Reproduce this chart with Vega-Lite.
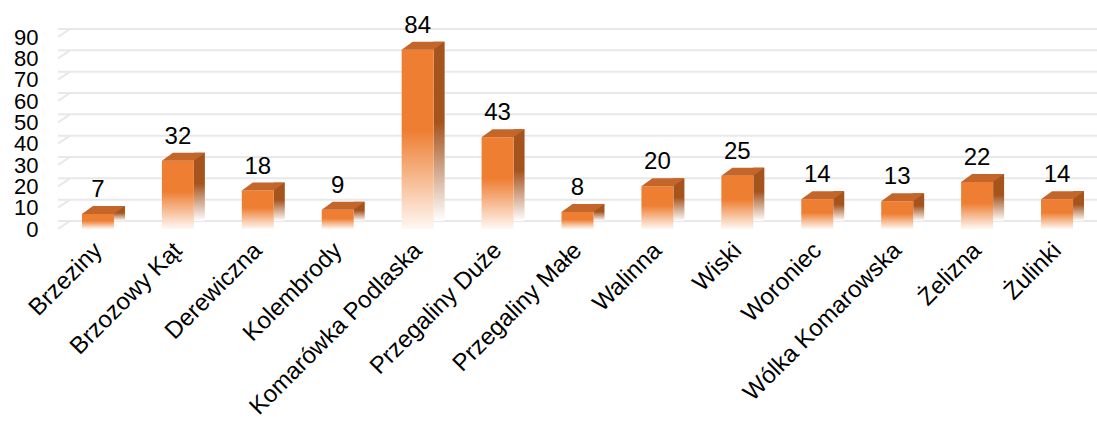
{
  "$schema": "https://vega.github.io/schema/vega-lite/v6.json",
  "width": 1039,
  "height": 192,
  "autosize": {"type": "none"},
  "padding": {"left": 58, "top": 37, "right": 0, "bottom": 192},
  "background": "white",
  "config": {
    "view": {"stroke": null},
    "font": "Liberation Sans",
    "axisY": {
      "labelFontSize": 22, "labelColor": "#000000", "ticks": false, "domain": false,
      "grid": false, "labelPadding": 20, "labelOverlap": false, "labelFlush": false,
      "labelBound": false, "title": null, "tickCount": 10
    },
    "axisX": {
      "labelAngle": -45, "labelAlign": "right", "labelBaseline": "top",
      "labelFontSize": 24, "labelColor": "#000000",
      "ticks": false, "domain": false, "labelPadding": 9, "labelOffset": -8, "labelLimit": 400,
      "labelOverlap": false, "title": null, "grid": false
    }
  },
  "datasets": {
    "villages": [
      {"name": "Brzeziny", "value": 7},
      {"name": "Brzozowy Kąt", "value": 32},
      {"name": "Derewiczna", "value": 18},
      {"name": "Kolembrody", "value": 9},
      {"name": "Komarówka Podlaska", "value": 84},
      {"name": "Przegaliny Duże", "value": 43},
      {"name": "Przegaliny Małe", "value": 8},
      {"name": "Walinna", "value": 20},
      {"name": "Wiski", "value": 25},
      {"name": "Woroniec", "value": 14},
      {"name": "Wólka Komarowska", "value": 13},
      {"name": "Żelizna", "value": 22},
      {"name": "Żulinki", "value": 14}
    ],
    "grid": [
      {"v": 0}, {"v": 10}, {"v": 20}, {"v": 30}, {"v": 40},
      {"v": 50}, {"v": 60}, {"v": 70}, {"v": 80}, {"v": 90}
    ]
  },
  "layer": [
    {
      "data": {"name": "grid"},
      "mark": {"type": "rule", "color": "#E8E8E8", "strokeWidth": 2, "xOffset": 12, "yOffset": -8},
      "encoding": {
        "y": {
          "field": "v", "type": "quantitative", "scale": {"domain": [0, 90]},
          "axis": {"values": [0, 10, 20, 30, 40, 50, 60, 70, 80, 90], "labelOverlap": false}
        }
      }
    },
    {
      "data": {"name": "grid"},
      "mark": {"type": "rule", "color": "#E8E8E8", "strokeWidth": 2, "x2Offset": 12, "y2Offset": -8},
      "encoding": {
        "x": {"datum": "Brzeziny", "type": "nominal", "bandPosition": 0},
        "x2": {"datum": "Brzeziny", "bandPosition": 0},
        "y": {"field": "v", "type": "quantitative"},
        "y2": {"field": "v"}
      }
    },
    {
      "data": {"name": "villages"},
      "mark": {
        "type": "bar", "width": 11, "xOffset": 21.5, "yOffset": -8,
        "color": {
          "gradient": "linear", "x1": 0, "y1": 0, "x2": 0, "y2": 1,
          "stops": [
            {"offset": 0, "color": "#A5541E"},
            {"offset": 0.45, "color": "#A5541E"},
            {"offset": 1, "color": "#FFFFFF"}
          ]
        }
      },
      "encoding": {
        "x": {"field": "name", "type": "nominal"},
        "y": {"field": "value", "type": "quantitative"}
      }
    },
    {
      "data": {"name": "villages"},
      "mark": {
        "type": "bar", "width": 32,
        "color": {
          "gradient": "linear", "x1": 0, "y1": 0, "x2": 0, "y2": 1,
          "stops": [
            {"offset": 0, "color": "#EE7E32"},
            {"offset": 0.45, "color": "#EE7E32"},
            {"offset": 1, "color": "#FFF8F3"}
          ]
        }
      },
      "encoding": {
        "x": {
          "field": "name", "type": "nominal",
          "scale": {
            "domain": ["Brzeziny", "Brzozowy Kąt", "Derewiczna", "Kolembrody", "Komarówka Podlaska", "Przegaliny Duże", "Przegaliny Małe", "Walinna", "Wiski", "Woroniec", "Wólka Komarowska", "Żelizna", "Żulinki"],
            "paddingInner": 0, "paddingOuter": 0
          }
        },
        "y": {
          "field": "value", "type": "quantitative",
          "axis": {"values": [0, 10, 20, 30, 40, 50, 60, 70, 80, 90], "labelOverlap": false}
        }
      }
    },
    {
      "data": {"name": "villages"},
      "mark": {
        "type": "point", "filled": true, "opacity": 1, "size": 1024, "strokeWidth": 0,
        "color": "#C4652A",
        "shape": "M-1,0L1,0L1.6875,-0.5L-0.3125,-0.5Z"
      },
      "encoding": {
        "x": {"field": "name", "type": "nominal"},
        "y": {"field": "value", "type": "quantitative"}
      }
    },
    {
      "data": {"name": "villages"},
      "mark": {"type": "text", "fontSize": 24, "dy": -17, "baseline": "alphabetic", "color": "#000000"},
      "encoding": {
        "x": {"field": "name", "type": "nominal"},
        "y": {"field": "value", "type": "quantitative"},
        "text": {"field": "value", "type": "quantitative"}
      }
    }
  ]
}
